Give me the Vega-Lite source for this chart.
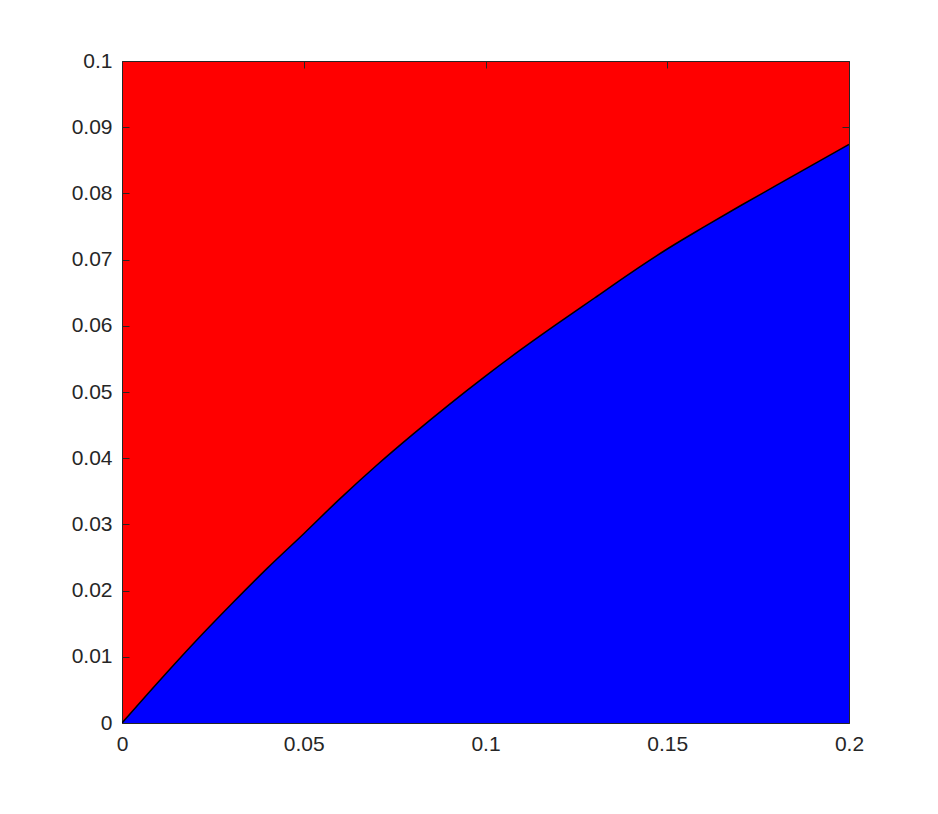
{
  "$schema": "https://vega.github.io/schema/vega-lite/v6.json",
  "width": 727,
  "height": 662,
  "autosize": {"type": "none"},
  "padding": {"left": 122, "top": 61, "right": 89, "bottom": 91},
  "background": "white",
  "view": {"fill": "#ff0000", "stroke": "#262626", "strokeWidth": 1},
  "config": {
    "axis": {
      "labelFont": "Liberation Sans",
      "labelFontSize": 21,
      "labelColor": "#262626",
      "domain": false,
      "grid": false,
      "tickColor": "#262626",
      "tickSize": -7,
      "tickWidth": 1,
      "title": null,
      "format": "~g"
    }
  },
  "resolve": {"axis": {"x": "independent", "y": "independent"}},
  "data": {
    "values": [
      {"x": 0.00, "y": 0.0000},
      {"x": 0.01, "y": 0.0062},
      {"x": 0.02, "y": 0.0122},
      {"x": 0.03, "y": 0.0179},
      {"x": 0.04, "y": 0.0234},
      {"x": 0.05, "y": 0.0286},
      {"x": 0.06, "y": 0.0339},
      {"x": 0.07, "y": 0.0389},
      {"x": 0.08, "y": 0.0436},
      {"x": 0.09, "y": 0.0481},
      {"x": 0.10, "y": 0.0524},
      {"x": 0.11, "y": 0.0565},
      {"x": 0.12, "y": 0.0604},
      {"x": 0.13, "y": 0.0642},
      {"x": 0.14, "y": 0.0680},
      {"x": 0.15, "y": 0.0716},
      {"x": 0.16, "y": 0.0749},
      {"x": 0.17, "y": 0.0781},
      {"x": 0.18, "y": 0.0812},
      {"x": 0.19, "y": 0.0843},
      {"x": 0.20, "y": 0.0874}
    ]
  },
  "layer": [
    {
      "mark": {"type": "area", "color": "#0000ff", "interpolate": "monotone", "clip": true},
      "encoding": {
        "x": {"field": "x", "type": "quantitative", "scale": {"domain": [0, 0.2], "nice": false},
          "axis": {"orient": "bottom", "values": [0, 0.05, 0.1, 0.15, 0.2], "labelPadding": 17, "labelFlush": false}},
        "y": {"field": "y", "type": "quantitative", "scale": {"domain": [0, 0.1], "nice": false},
          "axis": {"orient": "left", "values": [0, 0.01, 0.02, 0.03, 0.04, 0.05, 0.06, 0.07, 0.08, 0.09, 0.1], "labelPadding": 17, "labelFlush": false}}
      }
    },
    {
      "mark": {"type": "line", "color": "#000000", "strokeWidth": 1.5, "interpolate": "monotone", "clip": true},
      "encoding": {
        "x": {"field": "x", "type": "quantitative", "scale": {"domain": [0, 0.2], "nice": false},
          "axis": {"orient": "top", "values": [0, 0.05, 0.1, 0.15, 0.2], "labels": false}},
        "y": {"field": "y", "type": "quantitative", "scale": {"domain": [0, 0.1], "nice": false},
          "axis": {"orient": "right", "values": [0, 0.01, 0.02, 0.03, 0.04, 0.05, 0.06, 0.07, 0.08, 0.09, 0.1], "labels": false}}
      }
    }
  ]
}
